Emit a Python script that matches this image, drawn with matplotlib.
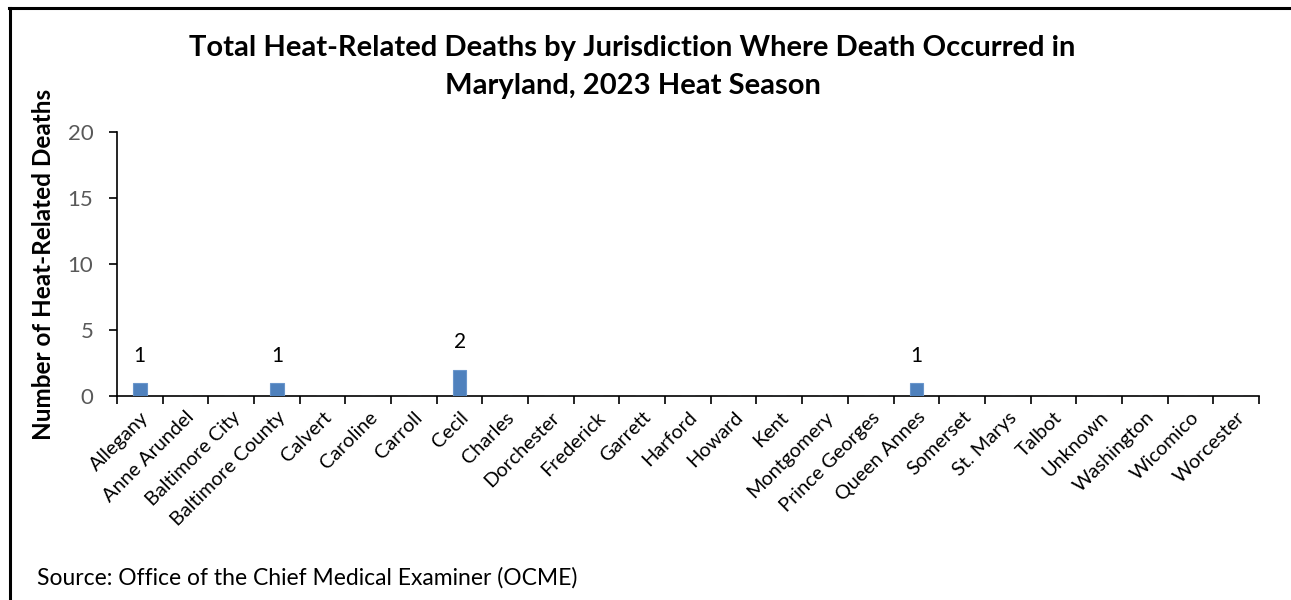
import numpy as np
import matplotlib.pyplot as plt
from matplotlib.lines import Line2D

plt.rcParams['font.family'] = ['Lato', 'DejaVu Sans']

jurisdictions = ['Allegany', 'Anne Arundel', 'Baltimore City', 'Baltimore County',
                 'Calvert', 'Caroline', 'Carroll', 'Cecil', 'Charles', 'Dorchester',
                 'Frederick', 'Garrett', 'Harford', 'Howard', 'Kent', 'Montgomery',
                 'Prince Georges', 'Queen Annes', 'Somerset', 'St. Marys', 'Talbot',
                 'Unknown', 'Washington', 'Wicomico', 'Worcester']
deaths = [1, 0, 0, 1, 0, 0, 0, 2, 0, 0, 0, 0, 0, 0, 0, 0, 0, 1, 0, 0, 0, 0, 0, 0, 0]

fig = plt.figure(figsize=(12.91, 6), dpi=100)
ax = fig.add_axes([0.0906, 0.34, 0.8846, 0.44])

x = np.arange(len(jurisdictions))
ax.bar(x, deaths, width=0.3, color='#4f81bd', edgecolor='#6a96cc', linewidth=0.8, zorder=3)
for xi, v in zip(x, deaths):
    if v > 0:
        ax.text(xi, v + 1.3, str(v), ha='center', va='bottom', fontsize=15, color='black')

ax.set_xlim(-0.5, len(jurisdictions) - 0.5)
ax.set_ylim(0, 20)
ax.set_yticks([0, 5, 10, 15, 20])
ax.tick_params(axis='y', labelsize=16, labelcolor='#595959', length=6, width=1.2,
               direction='out', pad=11)
ax.set_xticks(x)
ax.set_xticklabels(jurisdictions, rotation=45, ha='right', rotation_mode='anchor', fontsize=14.3)
ax.tick_params(axis='x', which='major', length=0, pad=9)
ax.set_xticks(np.arange(-0.5, len(jurisdictions)), minor=True)
ax.tick_params(axis='x', which='minor', length=6, width=1.2, direction='out')

for s in ['top', 'right']:
    ax.spines[s].set_visible(False)
for s in ['left', 'bottom']:
    ax.spines[s].set_linewidth(1.2)

ax.set_ylabel('Number of Heat-Related Deaths', fontsize=17.5, fontweight='bold')
ax.yaxis.set_label_coords(-0.054, 0.5)

fig.text(0.49, 0.888, 'Total Heat-Related Deaths by Jurisdiction Where Death Occurred in\nMaryland, 2023 Heat Season',
         ha='center', va='center', fontsize=21, fontweight='bold', linespacing=1.55)
fig.text(0.0287, 0.037, 'Source: Office of the Chief Medical Examiner (OCME)', fontsize=16.5, va='center')

fig.add_artist(Line2D([0.007, 1.0], [0.986, 0.986], color='black', lw=2.2))
fig.add_artist(Line2D([0.0075, 0.0075], [0.0, 0.987], color='black', lw=2.2))

fig.savefig('out.png', dpi=100)
